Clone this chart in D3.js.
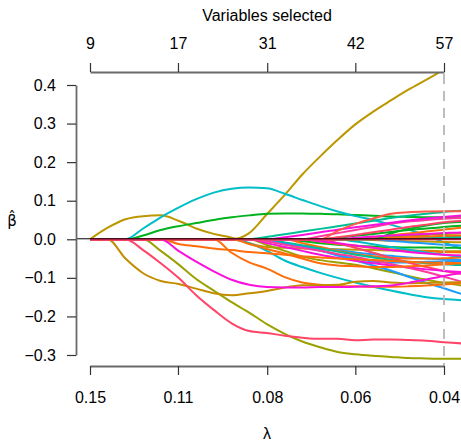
<!DOCTYPE html>
<html><head><meta charset="utf-8">
<script src="https://cdn.jsdelivr.net/npm/d3@7"></script>
<style>body{margin:0;background:#fff}svg{display:block}text{font-family:"Liberation Sans",Arial,Helvetica,sans-serif;fill:#000}</style>
</head><body><svg id="c" width="461" height="442"></svg>
<script>
// lambda grid (path points)
const lambda = [0.1500,0.1404,0.1314,0.1230,0.1152,0.1078,0.1009,0.0945,0.0884,0.0828,0.0775,0.0725,0.0679,0.0635,0.0595,0.0557,0.0521,0.0488,0.0457,0.0427,0.0400,0.0374,0.0350];
const lambdaTicks = [0.15,0.108,0.0774,0.0557,0.04];
const varsSelected = ["9","17","31","42","57"];
const yTicks = [-0.3,-0.2,-0.1,0,0.1,0.2,0.3,0.4];
const lambdaSelected = 0.04;

// coefficient paths
const goldHump    = [0,0.03,0.052,0.06,0.062,0.048,0.028,0.014,0.004,-0.01,-0.02,-0.022,-0.024,-0.025,-0.026,-0.027,-0.028,-0.029,-0.03,-0.03,-0.031,-0.031,-0.031];
const goldRise    = [0,0,0,0,0,0,0,0,0,0.016,0.065,0.115,0.168,0.215,0.258,0.298,0.331,0.36,0.388,0.414,0.44,0.465,0.49];
const cyanHump    = [0,0,0,0.028,0.057,0.082,0.104,0.121,0.131,0.134,0.132,0.118,0.102,0.086,0.072,0.06,0.05,0.038,0.025,0.01,-0.008,-0.025,-0.04];
const greenMain   = [0,0,0,0.01,0.024,0.034,0.042,0.05,0.057,0.062,0.066,0.067,0.067,0.066,0.065,0.063,0.061,0.059,0.058,0.057,0.057,0.057,0.057];
const redDrop     = [0,0,0,-0.028,-0.062,-0.1,-0.145,-0.183,-0.218,-0.238,-0.243,-0.25,-0.255,-0.258,-0.258,-0.262,-0.26,-0.26,-0.261,-0.263,-0.267,-0.27,-0.272];
const oliveDrop   = [0,0,0,0,-0.03,-0.065,-0.103,-0.133,-0.163,-0.19,-0.22,-0.245,-0.265,-0.28,-0.292,-0.298,-0.302,-0.305,-0.308,-0.309,-0.31,-0.31,-0.31];
const goldDrop    = [0,0,-0.05,-0.088,-0.108,-0.116,-0.128,-0.14,-0.145,-0.14,-0.134,-0.125,-0.119,-0.119,-0.118,-0.11,-0.108,-0.112,-0.114,-0.113,-0.112,-0.111,-0.11];
const magentaDrop = [0,0,0,0,0,-0.03,-0.058,-0.083,-0.105,-0.118,-0.124,-0.125,-0.125,-0.124,-0.124,-0.123,-0.122,-0.12,-0.113,-0.104,-0.095,-0.087,-0.08];
const orangeDrop  = [0,0,0,0,0,0,0,0,-0.035,-0.06,-0.076,-0.098,-0.112,-0.118,-0.121,-0.122,-0.123,-0.123,-0.122,-0.12,-0.117,-0.114,-0.11];
const orangeMild  = [0,0,0,0,0,-0.012,-0.018,-0.024,-0.028,-0.033,-0.036,-0.04,-0.044,-0.047,-0.05,-0.052,-0.054,-0.056,-0.058,-0.06,-0.061,-0.062,-0.063];
const orange2     = [0,0,0,0,0,0,0,0,0,-0.012,-0.025,-0.037,-0.05,-0.062,-0.068,-0.07,-0.072,-0.072,-0.07,-0.068,-0.065,-0.062,-0.06];
const cyanLow     = [0,0,0,0,0,0,0,0,0,-0.01,-0.03,-0.055,-0.072,-0.087,-0.1,-0.112,-0.123,-0.133,-0.142,-0.15,-0.155,-0.158,-0.16];
const blueSteep   = [0,0,0,0,0,0,0,0,0,0,-0.005,-0.012,-0.02,-0.03,-0.042,-0.055,-0.068,-0.081,-0.097,-0.113,-0.127,-0.142,-0.155];
const tealRise    = [0,0,0,0,0,0,0,0,0,0,0.006,0.013,0.02,0.027,0.034,0.041,0.048,0.055,0.061,0.066,0.071,0.074,0.076];
const redRise     = [0,0,0,0,0,0,0,0,0,0,0,0,0,0,0.022,0.04,0.054,0.066,0.07,0.072,0.073,0.073,0.073];
const magentaRise = [0,0,0,0,0,0,0,0,0,0,0,0.005,0.011,0.018,0.025,0.031,0.037,0.043,0.049,0.054,0.058,0.062,0.065];
const pinkRise    = [0,0,0,0,0,0,0,0,0,0,0,0,0,0.008,0.016,0.024,0.032,0.04,0.046,0.05,0.053,0.055,0.056];
const greenRise   = [0,0,0,0,0,0,0,0,0,0,0,0,0,0,0,0,0,0.015,0.027,0.036,0.042,0.045,0.047];
const magentaSmall= [0,0,0,0,0,0,0,0,0,0,0,0,0,0,0,0.004,0.007,0.01,0.012,0.014,0.016,0.018,0.019];
const oliveSmall  = [0,0,0,0,0,0,0,0,0,0,0,0,0,0,0,0,0.003,0.006,0.009,0.012,0.014,0.016,0.017];
const orangeSmall = [0,0,0,0,0,0,0,0,0,0,0,0,0,0,0,0,0,0.003,0.005,0.007,0.009,0.01,0.011];
const pinkDrop    = [0,0,0,0,0,0,0,0,0,0,-0.006,-0.014,-0.022,-0.03,-0.038,-0.046,-0.055,-0.064,-0.074,-0.085,-0.097,-0.11,-0.122];
const magentaDrop2= [0,0,0,0,0,0,0,0,0,0,-0.01,-0.02,-0.03,-0.04,-0.048,-0.056,-0.062,-0.068,-0.073,-0.078,-0.082,-0.085,-0.087];
const oliveDrop2  = [0,0,0,0,0,0,0,0,0,0,-0.015,-0.03,-0.045,-0.054,-0.06,-0.066,-0.075,-0.085,-0.095,-0.105,-0.113,-0.12,-0.125];
const blue2       = [0,0,0,0,0,0,0,0,0,0,-0.004,-0.01,-0.016,-0.022,-0.028,-0.034,-0.039,-0.043,-0.047,-0.05,-0.052,-0.054,-0.055];
const blue3       = [0,0,0,0,0,0,0,0,0,0,-0.004,-0.01,-0.018,-0.028,-0.04,-0.05,-0.058,-0.06,-0.06,-0.058,-0.057,-0.056,-0.055];
const greenNeg    = [0,0,0,0,0,0,0,0,0,0,0,0,-0.005,-0.01,-0.014,-0.017,-0.019,-0.02,-0.021,-0.021,-0.022,-0.022,-0.022];
const tealNeg     = [0,0,0,0,0,0,0,0,0,0,0,-0.008,-0.016,-0.024,-0.032,-0.04,-0.047,-0.053,-0.058,-0.062,-0.065,-0.067,-0.069];
const orangeNeg   = [0,0,0,0,0,0,0,0,0,0,0,0,0,-0.006,-0.012,-0.017,-0.022,-0.026,-0.029,-0.031,-0.033,-0.034,-0.035];
const redNeg      = [0,0,0,0,0,0,0,0,0,0,0,0,0,0,-0.01,-0.022,-0.035,-0.048,-0.06,-0.072,-0.082,-0.09,-0.097];
const goldNeg     = [0,0,0,0,0,0,0,0,0,0,0,0,0,0,0,0,-0.002,-0.004,-0.005,-0.006,-0.007,-0.008,-0.009];
const blueSmall   = [0,0,0,0,0,0,0,0,0,0,0,0,0,0,0,0,0,-0.004,-0.008,-0.011,-0.014,-0.016,-0.018];
const orangePos   = [0,0,0,0,0,0,0,0,0,0,0,0,0,0,0,0,0.005,0.01,0.015,0.02,0.025,0.03,0.033];
const redPos      = [0,0,0,0,0,0,0,0,0,0,0,0,0,0,0.005,0.011,0.018,0.025,0.032,0.038,0.044,0.048,0.052];
const magentaNeg  = [0,0,0,0,0,0,0,0,0,0,0,0,0,-0.005,-0.01,-0.016,-0.022,-0.028,-0.033,-0.037,-0.04,-0.042,-0.044];
const tealPos     = [0,0,0,0,0,0,0,0,0,0,0,0,0,0,0,0,0.002,0.003,0.004,0.005,0.006,0.006,0.007];
const cyanNeg     = [0,0,0,0,0,0,0,0,0,0,0,0,0,0,0,-0.006,-0.013,-0.02,-0.027,-0.034,-0.04,-0.045,-0.049];
const greenPos2   = [0,0,0,0,0,0,0,0,0,0,0,0,0,0,0.004,0.009,0.014,0.019,0.024,0.028,0.032,0.035,0.037];
const orangeNeg2  = [0,0,0,0,0,0,0,0,0,0,0,0,-0.01,-0.02,-0.03,-0.038,-0.044,-0.048,-0.05,-0.05,-0.049,-0.047,-0.045];
const redZero     = [0,0,0,0,0,0,0,0,0,0,0,0,0,0,0,0,0,0,0,0,0,0,0];

const series = [
  ["gold",goldHump],["olive",oliveDrop],["gold",goldRise],["green",greenMain],["cyan",cyanHump],
  ["olive",oliveDrop2],["blue",blue2],["teal",tealRise],["green",greenNeg],["orange",orangeNeg2],
  ["blue",blue3],["teal",tealNeg],["orange",orangeNeg],["cyan",cyanNeg],["green",greenPos2],
  ["gold",goldNeg],["blue",blueSmall],["teal",tealPos],["olive",oliveSmall],["orange",orangeSmall],
  ["orange",orangePos],["green",greenRise],["magenta",magentaSmall],["pink",pinkRise],["magenta",magentaRise],
  ["red",redNeg],["magenta",magentaNeg],["cyan",cyanLow],["blue",blueSteep],["magenta",magentaDrop2],
  ["pink",pinkDrop],["red",redPos],["redorange",redRise],["orange",orange2],["orange",orangeMild],
  ["orange",orangeDrop],["goldenrod",goldDrop],["magenta",magentaDrop],["red",redDrop],["zero",redZero]
];
const palette = {gold:"#BC9700",goldenrod:"#C38D00",olive:"#9BA000",green:"#00B31E",teal:"#00BF98",cyan:"#00BEC8",
  blue:"#1C9DFF",magenta:"#FA10DC",pink:"#FF3A9E",red:"#FF4468",redorange:"#FF5A48",orange:"#FF6C0A",zero:"#F0305C"};

const svg = d3.select("#c");
const x = d3.scaleLog().domain([0.15,0.04]).range([90,444]);
const y = d3.scaleLinear().domain([-0.3,0.4]).range([355,85]);
const plot = {left:76, top:72, right:461, bottom:366};

svg.append("defs").append("clipPath").attr("id","clip").append("rect")
  .attr("x",plot.left).attr("y",plot.top).attr("width",plot.right-plot.left+20).attr("height",plot.bottom-plot.top);

const g = svg.append("g").attr("clip-path","url(#clip)");
const line = d3.line().x((d,i)=>x(lambda[i])).y(d=>y(d)).curve(d3.curveMonotoneX);
series.forEach(([c,vals])=>{
  g.append("path").attr("d",line(vals)).attr("fill","none").attr("stroke",palette[c])
   .attr("stroke-width",2).attr("stroke-linejoin","round");
});
// zero reference line
g.append("line").attr("x1",plot.left).attr("x2",plot.right+20).attr("y1",y(0)-0.5).attr("y2",y(0)-0.5)
  .attr("stroke","#000").attr("stroke-width",1);
// selected lambda
g.append("line").attr("x1",x(lambdaSelected)).attr("x2",x(lambdaSelected)).attr("y1",plot.top+2).attr("y2",plot.bottom)
  .attr("stroke","#BDBDBD").attr("stroke-width",2).attr("stroke-dasharray","10,7");

const axisCol = "#6a6a6a";
const bx = svg.append("g").attr("transform",`translate(0,${plot.bottom})`)
  .call(d3.axisBottom(x).tickValues(lambdaTicks).tickFormat(d3.format(".2f")).tickSize(9).tickPadding(17).tickSizeOuter(0));
const tx = svg.append("g").attr("transform",`translate(0,${plot.top})`)
  .call(d3.axisTop(x).tickValues(lambdaTicks).tickFormat((d,i)=>varsSelected[i]).tickSize(9).tickPadding(14).tickSizeOuter(0));
const ly = svg.append("g").attr("transform",`translate(${plot.left},0)`)
  .call(d3.axisLeft(y).tickValues(yTicks).tickFormat(d3.format(".1f")).tickSize(9).tickPadding(11).tickSizeOuter(0));
[bx,tx,ly].forEach(a=>{
  a.select(".domain").attr("stroke",axisCol).attr("stroke-width",1.8);
  a.selectAll(".tick line").attr("stroke","#333").attr("stroke-width",1.2);
  a.selectAll(".tick text").attr("font-size",16).attr("font-family","Liberation Sans, Arial, sans-serif").attr("fill","#000");
});

svg.append("text").attr("x",267).attr("y",21).attr("text-anchor","middle").attr("font-size",16).text("Variables selected");
svg.append("text").attr("x",267).attr("y",439).attr("text-anchor","middle").attr("font-size",16).text("λ");
svg.append("text").attr("x",12).attr("y",226).attr("text-anchor","middle").attr("font-size",15)
  .style("font-family","'DejaVu Sans', sans-serif").text("\u03B2\u0302");
</script></body></html>
